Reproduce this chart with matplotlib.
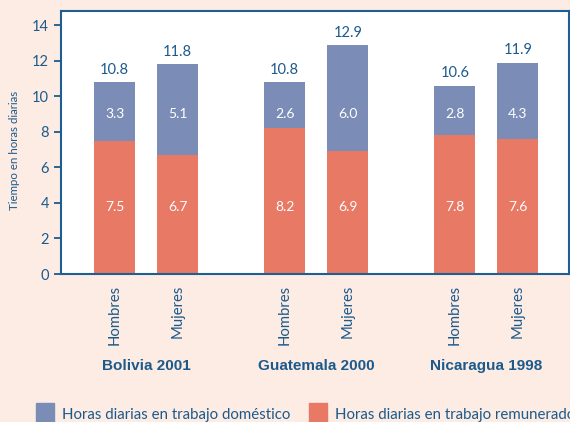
import matplotlib.pyplot as plt
from matplotlib.patches import Rectangle

groups = ["Bolivia 2001", "Guatemala 2000", "Nicaragua 1998"]
sexes = ["Hombres", "Mujeres"]
remunerado = [7.5, 6.7, 8.2, 6.9, 7.8, 7.6]
domestico = [3.3, 5.1, 2.6, 6.0, 2.8, 4.3]
totales = [10.8, 11.8, 10.8, 12.9, 10.6, 11.9]
yticks = [0, 2, 4, 6, 8, 10, 12, 14]

blue = "#7B8DB6"
red = "#E77965"
ink = "#1C5A8C"
bg = "#FCECE4"

plt.rcParams["font.family"] = ["Lato", "DejaVu Sans"]

fig = plt.figure(figsize=(5.7, 4.22), dpi=100, facecolor=bg)
ax = fig.add_axes([0.107, 0.3507, 0.891, 0.623])

# bar positions: two bars per group, wider gap between groups
pos = []
for g in range(len(groups)):
    for s in range(len(sexes)):
        pos.append(g * 2.7 + s)

ax.bar(pos, remunerado, width=0.65, color=red, zorder=2)
ax.bar(pos, domestico, width=0.65, bottom=remunerado, color=blue, zorder=2)

for x, r, d, t in zip(pos, remunerado, domestico, totales):
    ax.text(x, 3.75, f"{r:.1f}", ha="center", va="center", color="white", fontsize=10)
    ax.text(x, 9.0, f"{d:.1f}", ha="center", va="center", color="white", fontsize=10)
    ax.text(x, t + 0.3, f"{t:.1f}", ha="center", va="bottom", color=ink, fontsize=10.5)

ax.set_xlim(-0.85, 7.21)
ax.set_ylim(0, 14.8)
ax.set_yticks(yticks)
ax.tick_params(axis="y", colors=ink, labelsize=10.5, length=5, width=1.3, direction="out")
ax.set_xticks(pos)
ax.set_xticklabels(sexes * len(groups), rotation=90, color=ink, fontsize=10.7)
ax.tick_params(axis="x", length=0, pad=8)
ax.set_ylabel("Tiempo en horas diarias", color=ink, fontsize=8.3)
ax.yaxis.set_label_coords(-0.08, 0.47)
for sp in ax.spines.values():
    sp.set_color("#1F5E93")
    sp.set_linewidth(1.5)

for g, name in enumerate(groups):
    cx = g * 2.7 + 0.5
    ax.text(cx, -5.2, name, ha="center", va="center", color=ink, fontsize=11,
            fontweight="bold", family=["Liberation Sans", "DejaVu Sans"])

# legend drawn by hand along the bottom edge
leg = [("Horas diarias en trabajo doméstico", blue, 36),
       ("Horas diarias en trabajo remunerado", red, 309)]
for label, col, px in leg:
    fig.patches.append(Rectangle((px / 570, 0), 18 / 570, 19 / 422, color=col,
                                 transform=fig.transFigure, figure=fig))
    fig.text((px + 26) / 570, 7 / 422, label, ha="left", va="center",
             color=ink, fontsize=10.8)

fig.savefig("out.png", dpi=100, facecolor=bg)
